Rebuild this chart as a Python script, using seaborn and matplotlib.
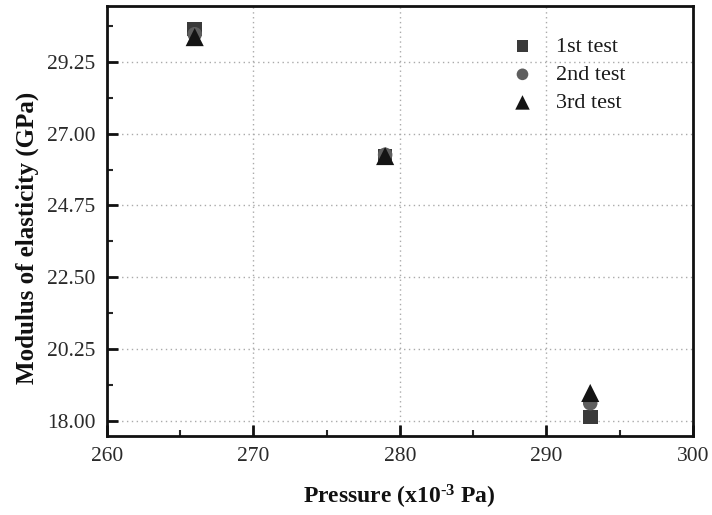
import numpy as np
import pandas as pd
import matplotlib
matplotlib.use("Agg")
import matplotlib.pyplot as plt
import seaborn as sns
from matplotlib.ticker import MultipleLocator

pressure = [266, 279, 293]
test1 = [30.28, 26.28, 18.12]
test2 = [30.12, 26.34, 18.55]
test3 = [30.03, 26.30, 18.87]
series_names = ["1st test", "2nd test", "3rd test"]
yticks = [18.00, 20.25, 22.50, 24.75, 27.00, 29.25]
xticks = [260, 270, 280, 290, 300]

rows = []
for name, vals in zip(series_names, [test1, test2, test3]):
    for p, v in zip(pressure, vals):
        rows.append({"Pressure": p, "Modulus": v, "Test": name})
df = pd.DataFrame(rows)

sns.set_theme(style="white")
plt.rcParams['font.family'] = ['Liberation Serif', 'DejaVu Serif']
plt.rcParams['mathtext.fontset'] = 'custom'
plt.rcParams['mathtext.rm'] = 'Liberation Serif'
plt.rcParams['mathtext.bf'] = 'Liberation Serif:bold'
plt.rcParams['mathtext.it'] = 'Liberation Serif:italic'

fig = plt.figure(figsize=(7.12, 5.15), dpi=100)
ax = fig.add_axes([0.150, 0.154, 0.823, 0.834])

palette = {"1st test": "#3a3a3a", "2nd test": "#5e5e5e", "3rd test": "#141414"}
markers = {"1st test": "s", "2nd test": "o", "3rd test": "^"}
sizes = {"1st test": 110, "2nd test": 110, "3rd test": 170}
for name in series_names:
    sub = df[df["Test"] == name]
    sns.scatterplot(data=sub, x="Pressure", y="Modulus", ax=ax,
                    color=palette[name], marker=markers[name], s=sizes[name],
                    edgecolor="none", label=name, zorder=3)

ax.set_xlim(260, 300)
ax.set_ylim(17.53, 31.0)
ax.set_xticks(xticks)
ax.set_yticks(yticks)
ax.set_yticklabels([f"{t:.2f}" for t in yticks])
ax.xaxis.set_minor_locator(MultipleLocator(5))
ax.yaxis.set_minor_locator(MultipleLocator(1.125))
ax.tick_params(axis='both', which='major', direction='in', length=8, width=2,
               labelsize=15.5, colors='#111111', labelcolor='#2a2a2a',
               bottom=True, left=True, top=False, right=False, pad=8)
ax.tick_params(axis='both', which='minor', direction='in', length=4, width=1.5,
               bottom=True, left=True, top=False, right=False)
ax.grid(True, which='major', linestyle=(0, (1, 2.5)), color='#aaaaaa', linewidth=1)
for sp in ax.spines.values():
    sp.set_linewidth(2)
    sp.set_color('#111111')

ax.set_xlabel("Pressure (x10$^{\\mathbf{\u20103}}$ Pa)", fontsize=17, fontweight='bold', labelpad=12, color='#111111')
ax.set_ylabel("Modulus of elasticity (GPa)", fontsize=18, fontweight='bold', color='#111111')
ax.yaxis.set_label_coords(-0.115, 0.46)

leg = ax.legend(loc='upper right', bbox_to_anchor=(0.919, 0.976), frameon=False, fontsize=16,
                handletextpad=0.5, labelspacing=0.34, markerscale=0.8)
for t in leg.get_texts():
    t.set_color('#1a1a1a')

fig.savefig("out.png", dpi=100)
